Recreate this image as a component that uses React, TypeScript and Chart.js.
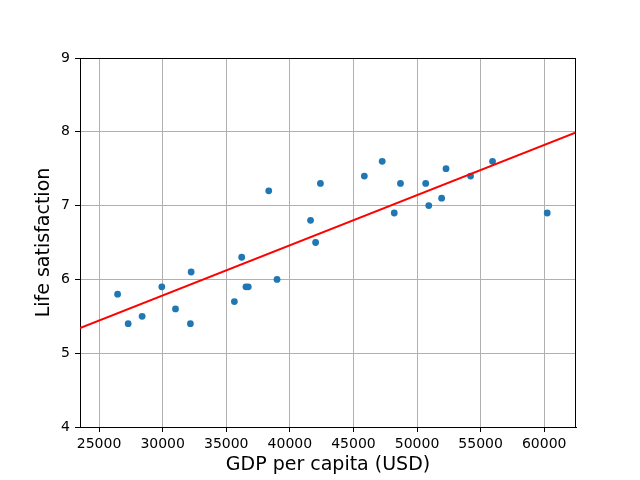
import React, { useEffect, useRef } from "react";
import { Chart, registerables } from "chart.js";

Chart.register(...registerables);

// GDP per capita (USD) and life satisfaction per country
const gdpPerCapita = [
  26456, 27287, 28385, 29932, 31008, 32181, 32238, 35638, 36215, 36548,
  36732, 38341, 38992, 41627, 42026, 42404, 45857, 47261, 48210, 48698,
  50683, 50922, 51936, 52280, 54210, 55938, 60236,
];
const lifeSatisfaction = [
  5.8, 5.4, 5.5, 5.9, 5.6, 5.4, 6.1, 5.7, 6.3, 5.9,
  5.9, 7.2, 6.0, 6.8, 6.5, 7.3, 7.4, 7.6, 6.9, 7.3,
  7.3, 7.0, 7.1, 7.5, 7.4, 7.6, 6.9,
];
// fitted line endpoints
const lineX = [23500, 62500];
const lineY = [5.34, 7.99];

const xTicks = [25000, 30000, 35000, 40000, 45000, 50000, 55000, 60000];
const yTicks = [4, 5, 6, 7, 8, 9];
const xRange = [23500, 62500];
const yRange = [4, 9];

const FONT = "'DejaVu Sans', sans-serif";

const framePlugin = {
  id: "frame",
  afterDraw(chart: any) {
    const { ctx, chartArea } = chart;
    ctx.save();
    ctx.strokeStyle = "#000";
    ctx.lineWidth = 1;
    ctx.beginPath();
    ctx.moveTo(chartArea.left, Math.round(chartArea.top) + 0.5);
    ctx.lineTo(chartArea.right, Math.round(chartArea.top) + 0.5);
    ctx.moveTo(Math.round(chartArea.right) - 0.5, chartArea.top);
    ctx.lineTo(Math.round(chartArea.right) - 0.5, chartArea.bottom);
    ctx.stroke();
    ctx.restore();
  },
};

export default function App() {
  const ref = useRef<HTMLCanvasElement>(null);
  useEffect(() => {
    document.body.style.margin = "0";
    const chart = new Chart(ref.current!, {
      type: "scatter",
      data: {
        datasets: [
          {
            type: "line",
            data: lineX.map((x, i) => ({ x, y: lineY[i] })),
            borderColor: "#ff0000",
            borderWidth: 2,
            pointRadius: 0,
            fill: false,
            order: 0,
          } as any,
          {
            data: gdpPerCapita.map((x, i) => ({ x, y: lifeSatisfaction[i] })),
            backgroundColor: "#1f77b4",
            borderWidth: 0,
            pointRadius: 3.4,
            order: 1,
          },
        ],
      },
      options: {
        animation: false,
        responsive: false,
        layout: { padding: { top: 58, right: 64, left: 0, bottom: 0 } },
        plugins: { legend: { display: false }, tooltip: { enabled: false } },
        scales: {
          x: {
            type: "linear",
            min: xRange[0],
            max: xRange[1],
            afterBuildTicks: (s: any) => {
              s.ticks = xTicks.map((v) => ({ value: v }));
            },
            afterFit: (s: any) => {
              s.height = 53;
            },
            ticks: {
              color: "#000",
              font: { family: FONT, size: 14 },
              padding: 4,
              maxRotation: 0,
              autoSkip: false,
              callback: (v: any) => String(v),
            },
            grid: {
              color: "#b0b0b0",
              lineWidth: 1,
              tickColor: "#000",
              tickLength: 5,
            },
            border: { display: true, color: "#000", width: 1 },
            title: {
              display: true,
              text: "GDP per capita (USD)",
              color: "#000",
              font: { family: FONT, size: 19 },
              padding: { top: 0, bottom: 4 },
            },
          },
          y: {
            type: "linear",
            min: yRange[0],
            max: yRange[1],
            afterBuildTicks: (s: any) => {
              s.ticks = yTicks.map((v) => ({ value: v }));
            },
            afterFit: (s: any) => {
              s.width = 80;
            },
            ticks: {
              color: "#000",
              font: { family: FONT, size: 14 },
              padding: 5,
              callback: (v: any) => String(v),
            },
            grid: {
              color: "#b0b0b0",
              lineWidth: 1,
              tickColor: "#000",
              tickLength: 5,
            },
            border: { display: true, color: "#000", width: 1 },
            title: {
              display: true,
              text: "Life satisfaction",
              color: "#000",
              font: { family: FONT, size: 19 },
              padding: { top: 33, bottom: 0 },
            },
          },
        },
      },
      plugins: [framePlugin],
    });
    return () => chart.destroy();
  }, []);
  return (
    <div style={{ position: "absolute", left: 0, top: 0, width: 640, height: 480 }}>
      <canvas ref={ref} width={640} height={480} style={{ width: 640, height: 480 }} />
    </div>
  );
}
